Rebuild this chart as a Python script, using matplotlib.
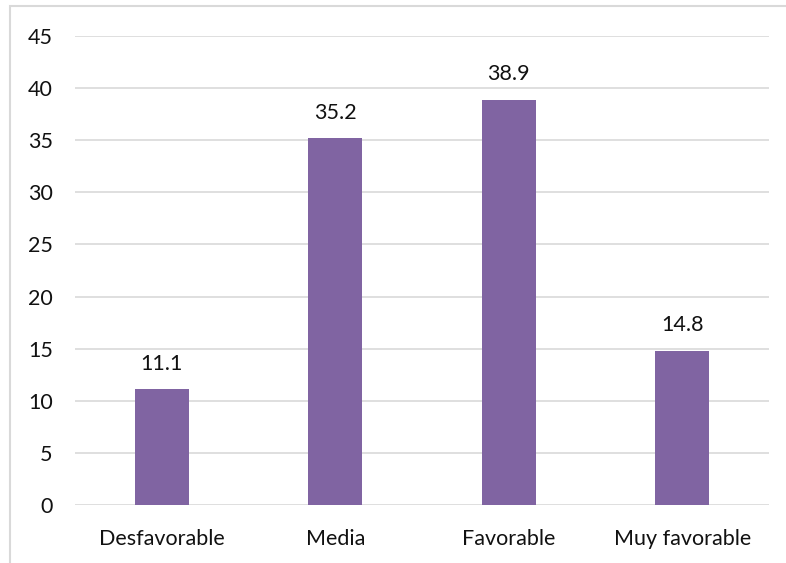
import matplotlib.pyplot as plt
from matplotlib.patches import Rectangle

categories = ["Desfavorable", "Media", "Favorable", "Muy favorable"]
values = [11.1, 35.2, 38.9, 14.8]
yticks = [0, 5, 10, 15, 20, 25, 30, 35, 40, 45]

plt.rcParams["font.family"] = ["Lato", "DejaVu Sans"]

fig = plt.figure(figsize=(7.86, 5.63), dpi=100)
ax = fig.add_axes([75 / 786, 1 - 505 / 563, 694 / 786, 469 / 563])

# light frame around the chart area
fig.patches.append(Rectangle((10 / 786, -0.05), 1.2, 1 - 6 / 563 + 0.05,
                             transform=fig.transFigure, fill=False,
                             edgecolor="#D9D9D9", linewidth=1.5))

bars = ax.bar(categories, values, width=0.31, color="#8064A2", zorder=3)
for b, v in zip(bars, values):
    ax.annotate(f"{v}", (b.get_x() + b.get_width() / 2, v),
                xytext=(0, 11), textcoords="offset points",
                ha="center", va="bottom", fontsize=15.5, color="#111111")

ax.set_ylim(0, 45)
ax.set_xlim(-0.5, 3.5)
ax.set_yticks(yticks)
ax.grid(axis="y", color="#D9D9D9", linewidth=1.2, zorder=0)
for s in ax.spines.values():
    s.set_visible(False)
ax.tick_params(length=0, labelsize=15.5, colors="#111111")
ax.tick_params(axis="y", pad=16)
ax.tick_params(axis="x", pad=17)

fig.savefig("out.png", dpi=100)
